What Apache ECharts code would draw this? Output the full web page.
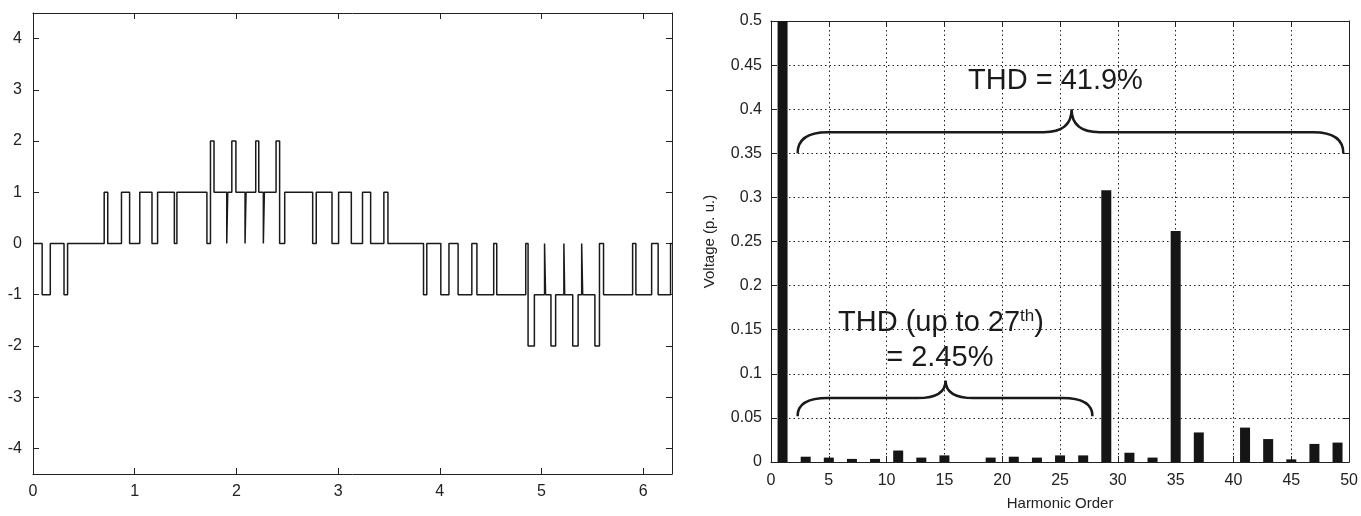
<!DOCTYPE html>
<html>
<head>
<meta charset="utf-8">
<script src="https://cdn.jsdelivr.net/npm/echarts@6/dist/echarts.min.js"></script>
<style>
html,body{margin:0;padding:0;background:#fff;}
#chart{width:1361px;height:516px;}
</style>
</head>
<body>
<div id="chart"></div>
<script>
// ---- Left panel: multilevel PWM waveform (switching instants and new levels) ----
const stepTimes = [0, 0.09, 0.17, 0.305, 0.34, 0.70, 0.735, 0.87, 0.95, 1.05, 1.17, 1.225, 1.39, 1.415,
  1.71, 1.745, 1.78, 1.905, 1.915, 1.955, 1.995, 2.085, 2.095, 2.19, 2.22, 2.265, 2.275, 2.39, 2.425, 2.475,
  2.75, 2.785, 2.94, 3.005, 3.13, 3.24, 3.32, 3.45, 3.49,
  3.84, 3.872, 4.01, 4.09, 4.18, 4.315, 4.365, 4.53, 4.56, 4.845, 4.868, 4.93, 5.03, 5.04, 5.093, 5.139,
  5.22, 5.228, 5.307, 5.36, 5.395, 5.405, 5.525, 5.57, 5.61, 5.896, 5.928, 6.083, 6.147, 6.269, 6.2832];
const stepLevels = [0, -1, 0, -1, 0, 1, 0, 1, 0, 1, 0, 1, 0, 1,
  0, 2, 1, 0, 1, 2, 1, 0, 1, 2, 1, 0, 1, 2, 0, 1,
  0, 1, 0, 1, 0, 1, 0, 1, 0,
  -1, 0, -1, 0, -1, 0, -1, 0, -1, 0, -2, -1, 0, -1, -2, -1,
  0, -1, -2, -1, 0, -1, -2, 0, -1, 0, -1, 0, -1, 0, 0];
const leftXTicks = [0, 1, 2, 3, 4, 5, 6];
const leftYTicks = [-4, -3, -2, -1, 0, 1, 2, 3, 4];

// ---- Right panel: harmonic spectrum ----
const harmonicOrders = [1, 3, 5, 7, 9, 11, 13, 15, 17, 19, 21, 23, 25, 27, 29, 31, 33, 35, 37, 39, 41, 43, 45, 47, 49];
const harmonicVoltages = [1.0, 0.006, 0.005, 0.0035, 0.0035, 0.013, 0.005, 0.0075, 0, 0.005, 0.006, 0.005, 0.0075, 0.0075,
  0.308, 0.0105, 0.005, 0.262, 0.0335, 0, 0.039, 0.026, 0.003, 0.0205, 0.022];

// Brace annotations in data units: [xStart, xEnd, xTip, yEnds, yBar, yTip]
const braceSpecs = [
  [2.3, 49.5, 26.0, 0.35, 0.374, 0.400],
  [2.3, 27.8, 15.1, 0.052, 0.0725, 0.0925]
];
// Annotation texts in data units
const noteX = [24.6, 14.7, 14.6];
const noteY = [0.432, 0.158, 0.118];
const noteText = ['THD = 41.9%', 'THD (up to 27{sup|th})', '= 2.45%'];

const waveData = stepTimes.map((t, i) => [t, stepLevels[i]]);
const barData = harmonicOrders.map((h, i) => [h, harmonicVoltages[i]]);

const axisColor = '#222';
const leftFont = "'Liberation Sans', Arial, sans-serif";
const rightFont = "'Liberation Sans Narrow', 'Arial Narrow', 'Liberation Sans', sans-serif";

function boxAxis(gridIndex, pos, min, max, interval, showLabel, font, fontSize, extra) {
  return Object.assign({
    type: 'value', gridIndex: gridIndex, position: pos, min: min, max: max, interval: interval,
    axisLine: { show: true, onZero: false, lineStyle: { color: axisColor, width: 1 } },
    axisTick: { show: true, inside: true, length: 6, lineStyle: { color: axisColor } },
    axisLabel: { show: showLabel, color: '#222', fontFamily: font, fontSize: fontSize, margin: 9 },
    splitLine: { show: false }
  }, extra || {});
}

const leftXTick = { show: true, inside: true, length: 6, lineStyle: { color: axisColor }, customValues: leftXTicks };
const leftYTick = { show: true, inside: true, length: 6, lineStyle: { color: axisColor }, customValues: leftYTicks };

const chart = echarts.init(document.getElementById('chart'), null, { renderer: 'canvas' });

const option = {
  animation: false,
  backgroundColor: '#fff',
  grid: [
    { left: 33, top: 13, width: 639, height: 461 },
    { left: 771, top: 21, width: 585, height: 450 }
  ],
  xAxis: [
    boxAxis(0, 'bottom', 0, 2 * Math.PI, 1, true, leftFont, 16, {
      axisTick: leftXTick,
      axisLabel: { show: true, color: '#222', fontFamily: leftFont, fontSize: 16, margin: 10, customValues: leftXTicks }
    }),
    boxAxis(0, 'top', 0, 2 * Math.PI, 1, false, leftFont, 16, { axisTick: leftXTick }),
    boxAxis(1, 'bottom', 0, 50, 5, true, rightFont, 16, {
      name: 'Harmonic Order', nameLocation: 'middle', nameGap: 34,
      nameTextStyle: { fontFamily: rightFont, fontSize: 15, color: '#222' },
      axisLabel: { show: true, color: '#222', fontFamily: rightFont, fontSize: 16, margin: 11 },
      splitLine: { show: true, lineStyle: { type: [1.5, 3], color: '#222', width: 1 } }
    }),
    boxAxis(1, 'top', 0, 50, 5, false, rightFont, 16)
  ],
  yAxis: [
    boxAxis(0, 'left', -4.5, 4.5, 1, true, leftFont, 16, {
      axisTick: leftYTick,
      axisLabel: { show: true, color: '#222', fontFamily: leftFont, fontSize: 16, margin: 11, customValues: leftYTicks }
    }),
    boxAxis(0, 'right', -4.5, 4.5, 1, false, leftFont, 16, { axisTick: leftYTick }),
    boxAxis(1, 'left', 0, 0.5, 0.05, true, rightFont, 16, {
      name: 'Voltage (p. u.)', nameLocation: 'middle', nameGap: 54,
      nameTextStyle: { fontFamily: rightFont, fontSize: 15, color: '#222' },
      axisLabel: { show: true, color: '#222', fontFamily: rightFont, fontSize: 16, margin: 9, formatter: v => String(+v.toFixed(2)) },
      splitLine: { show: true, lineStyle: { type: [1.5, 3], color: '#222', width: 1 } }
    }),
    boxAxis(1, 'right', 0, 0.5, 0.05, false, rightFont, 16)
  ],
  series: [
    {
      type: 'line', xAxisIndex: 0, yAxisIndex: 0, data: waveData, step: 'end',
      symbol: 'none', lineStyle: { color: '#1a1a1a', width: 1.5 }
    },
    {
      type: 'bar', xAxisIndex: 2, yAxisIndex: 2, data: barData, barWidth: 10, clip: true,
      itemStyle: { color: '#151515' }
    },
    {
      type: 'custom', xAxisIndex: 2, yAxisIndex: 2, data: braceSpecs, clip: false, z: 5,
      renderItem: function (params, api) {
        const s = braceSpecs[params.dataIndex];
        const pL = api.coord([s[0], s[3]]);
        const pR = api.coord([s[1], s[3]]);
        const barY = api.coord([s[0], s[4]])[1];
        const tip = api.coord([s[2], s[5]]);
        const r = 30, rm = 28;
        const d = [
          'M', pL[0], pL[1],
          'Q', pL[0], barY, pL[0] + r, barY,
          'L', tip[0] - rm, barY,
          'Q', tip[0], barY, tip[0], tip[1],
          'Q', tip[0], barY, tip[0] + rm, barY,
          'L', pR[0] - r, barY,
          'Q', pR[0], barY, pR[0], pR[1]
        ].join(' ');
        return {
          type: 'path',
          shape: { pathData: d },
          style: { fill: 'none', stroke: '#1a1a1a', lineWidth: 2.5 }
        };
      }
    },
    {
      type: 'custom', xAxisIndex: 2, yAxisIndex: 2, data: noteX.map((x, i) => [x, noteY[i]]), clip: false, z: 6,
      renderItem: function (params, api) {
        const p = api.coord([noteX[params.dataIndex], noteY[params.dataIndex]]);
        return {
          type: 'text',
          x: p[0], y: p[1],
          style: {
            text: noteText[params.dataIndex],
            fill: '#1a1a1a',
            font: "29px 'Liberation Sans', Arial, sans-serif",
            align: 'center', verticalAlign: 'middle',
            rich: { sup: { fontSize: 17, fontFamily: "'Liberation Sans', Arial, sans-serif", verticalAlign: 'top', padding: [0, 0, 12, 0] } }
          }
        };
      }
    }
  ]
};
chart.setOption(option);
</script>
</body>
</html>
